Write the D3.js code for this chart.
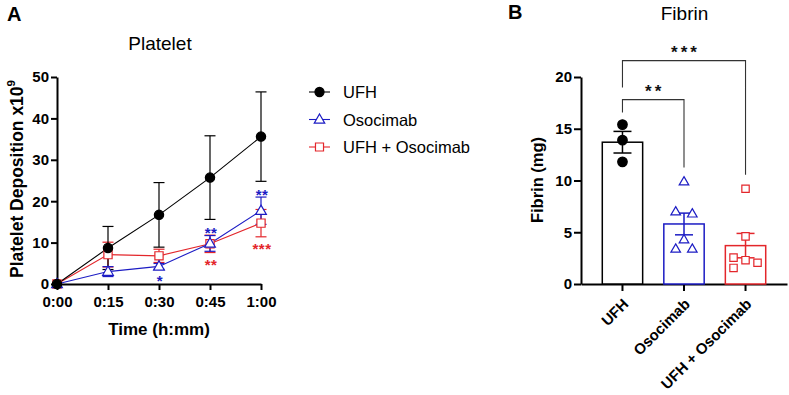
<!DOCTYPE html>
<html>
<head>
<meta charset="utf-8">
<script src="https://cdn.jsdelivr.net/npm/d3@7"></script>
<style>
  html, body { margin: 0; padding: 0; background: #fff; }
  svg { display: block; font-family: "Liberation Sans", Arial, sans-serif; }
</style>
</head>
<body>
<svg id="chart" width="789" height="395"></svg>
<script>
// ---------- DATA ----------
const times = [0, 15, 30, 45, 60];
const timeLabels = ["0:00", "0:15", "0:30", "0:45", "1:00"];
const plateletTicks = [0, 10, 20, 30, 40, 50];

const ufhMean = [0, 8.7, 16.7, 25.7, 35.6];
const ufhErr = [0, 5.2, 7.8, 10.1, 10.8];
const osoMean = [0, 3.0, 4.25, 9.8, 17.7];
const osoErr = [0, 1.2, 0.7, 1.9, 3.3];
const comboMean = [0, 7.1, 6.8, 9.7, 14.7];
const comboErr = [0, 3.0, 1.6, 2.1, 3.3];

const seriesNames = ["UFH", "Osocimab", "UFH + Osocimab"];

const plateletStars = [
  { series: "Osocimab", t: 30, label: "*", side: "below" },
  { series: "Osocimab", t: 45, label: "**", side: "above" },
  { series: "UFH + Osocimab", t: 45, label: "**", side: "below" },
  { series: "Osocimab", t: 60, label: "**", side: "above" },
  { series: "UFH + Osocimab", t: 60, label: "***", side: "below" }
];

const fibrinGroups = ["UFH", "Osocimab", "UFH + Osocimab"];
const fibrinUFH = [15.4, 13.9, 11.8];
const fibrinOso = [9.9, 7.0, 6.8, 4.3, 3.4, 3.4];
const fibrinCombo = [9.2, 4.6, 2.55, 2.3, 2.05, 1.55];
const fibrinTicks = [0, 5, 10, 15, 20];
const fibrinComparisons = [
  { a: "UFH", b: "Osocimab", label: "**" },
  { a: "UFH", b: "UFH + Osocimab", label: "***" }
];

// ---------- STYLE ----------
const colors = { "UFH": "#000000", "Osocimab": "#1c1cc4", "UFH + Osocimab": "#e3262b" };
const symbols = { "UFH": d3.symbolCircle, "Osocimab": d3.symbolTriangle, "UFH + Osocimab": d3.symbolSquare };
const filled = { "UFH": true, "Osocimab": false, "UFH + Osocimab": false };

const svg = d3.select("#chart");
const FONT = "'Liberation Sans', Arial, sans-serif";

function drawMarker(g, name, x, y, scale) {
  const sizes = { "UFH": 68 * scale, "Osocimab": 50 * scale, "UFH + Osocimab": 68 * scale };
  const path = d3.symbol().type(symbols[name]).size(sizes[name])();
  const dy = name === "Osocimab" ? 0.6 : 0;
  g.append("path")
    .attr("d", path)
    .attr("transform", `translate(${x},${y + dy})`)
    .attr("fill", filled[name] ? colors[name] : "#fff")
    .attr("stroke", colors[name])
    .attr("stroke-width", 1.2);
}

// ================= PANEL A =================
const A = svg.append("g");
const xA = d3.scaleLinear().domain([0, 60]).range([57, 261]);
const yA = d3.scaleLinear().domain([0, 50]).range([284, 77]);

A.append("text").text("A").attr("x", 7).attr("y", 21)
  .attr("font-size", 20).attr("font-weight", "bold");
A.append("text").text("Platelet").attr("x", 160).attr("y", 50)
  .attr("text-anchor", "middle").attr("font-size", 19);

// axes
const axAx = A.append("g").attr("transform", `translate(0,${yA(0)})`)
  .call(d3.axisBottom(xA).tickValues(times).tickFormat((d, i) => timeLabels[i]).tickSize(6).tickSizeOuter(0));
const ayAx = A.append("g").attr("transform", `translate(${xA(0)},0)`)
  .call(d3.axisLeft(yA).tickValues(plateletTicks).tickSize(6).tickSizeOuter(0));
[axAx, ayAx].forEach(ax => {
  ax.select(".domain").attr("stroke", "#000").attr("stroke-width", 2);
  ax.selectAll(".tick line").attr("stroke", "#000").attr("stroke-width", 2);
  ax.selectAll(".tick text").attr("font-size", 15).attr("font-weight", "bold")
    .attr("font-family", FONT).attr("fill", "#000");
});
axAx.selectAll(".tick text").attr("dy", "0.95em");
ayAx.selectAll(".tick text").attr("x", -8);

A.append("text").text("Time (h:mm)").attr("x", 159).attr("y", 335)
  .attr("text-anchor", "middle").attr("font-size", 17).attr("font-weight", "bold");
const yl = A.append("text").attr("transform", "translate(22.5,179) rotate(-90)")
  .attr("text-anchor", "middle").attr("font-size", 17.5).attr("font-weight", "bold");
yl.append("tspan").text("Platelet Deposition x10");
yl.append("tspan").text("9").attr("font-size", 11.5).attr("dy", -7.5);

const seriesData = {
  "UFH": { mean: ufhMean, err: ufhErr },
  "Osocimab": { mean: osoMean, err: osoErr },
  "UFH + Osocimab": { mean: comboMean, err: comboErr }
};
const drawOrder = ["UFH + Osocimab", "Osocimab", "UFH"];
const line = d3.line().x((d, i) => xA(times[i])).y(d => yA(d));
const capA = 5.5;
drawOrder.forEach(name => {
  const s = seriesData[name];
  const g = A.append("g");
  s.mean.forEach((m, i) => {
    if (s.err[i] <= 0) return;
    const x = xA(times[i]);
    const y1 = yA(m + s.err[i]), y0 = yA(m - s.err[i]);
    g.append("line").attr("x1", x).attr("x2", x).attr("y1", y1).attr("y2", y0)
      .attr("stroke", colors[name]).attr("stroke-width", 1.2);
    [y1, y0].forEach(yy => g.append("line").attr("x1", x - capA).attr("x2", x + capA)
      .attr("y1", yy).attr("y2", yy).attr("stroke", colors[name]).attr("stroke-width", 1.2));
  });
  g.append("path").attr("d", line(s.mean)).attr("fill", "none")
    .attr("stroke", colors[name]).attr("stroke-width", 1.1);
});
drawOrder.forEach(name => {
  const s = seriesData[name];
  s.mean.forEach((m, i) => drawMarker(A, name, xA(times[i]), yA(m), 1));
});

// stars
plateletStars.forEach(st => {
  const s = seriesData[st.series];
  const i = times.indexOf(st.t);
  const end = st.side === "above" ? s.mean[i] + s.err[i] : s.mean[i] - s.err[i];
  const cy = yA(end) + (st.side === "above" ? -6 : 8.5);
  A.append("text").text(st.label).attr("x", xA(st.t) + 1).attr("y", cy + 8.5)
    .attr("text-anchor", "middle").attr("font-size", 15).attr("font-weight", "bold")
    .attr("letter-spacing", 0.5)
    .attr("fill", colors[st.series]);
});

// legend
const leg = A.append("g");
seriesNames.forEach((name, i) => {
  const y = 92 + i * 27.5;
  leg.append("line").attr("x1", 309).attr("x2", 330).attr("y1", y).attr("y2", y)
    .attr("stroke", colors[name]).attr("stroke-width", 1.1);
  drawMarker(leg, name, 319.5, y, 0.95);
  leg.append("text").text(name).attr("x", 343).attr("y", y + 6)
    .attr("font-size", 16.5).attr("fill", "#000");
});

// ================= PANEL B =================
const B = svg.append("g");
const xB = d3.scaleBand().domain(fibrinGroups).range([581, 787]).paddingInner(0.344).paddingOuter(0.346);
const yB = d3.scaleLinear().domain([0, 20]).range([284, 77]);
const groupVals = { "UFH": fibrinUFH, "Osocimab": fibrinOso, "UFH + Osocimab": fibrinCombo };

B.append("text").text("B").attr("x", 508).attr("y", 19)
  .attr("font-size", 20).attr("font-weight", "bold");
B.append("text").text("Fibrin").attr("x", 684.5).attr("y", 20)
  .attr("text-anchor", "middle").attr("font-size", 19);

const bxAx = B.append("g").attr("transform", `translate(0,${yB(0)})`)
  .call(d3.axisBottom(xB).tickSize(7).tickSizeOuter(0));
const byAx = B.append("g").attr("transform", `translate(581,0)`)
  .call(d3.axisLeft(yB).tickValues(fibrinTicks).tickSize(7).tickSizeOuter(0));
[bxAx, byAx].forEach(ax => {
  ax.select(".domain").attr("stroke", "#000").attr("stroke-width", 2);
  ax.selectAll(".tick line").attr("stroke", "#000").attr("stroke-width", 2);
  ax.selectAll(".tick text").attr("font-size", 15).attr("font-weight", "bold")
    .attr("font-family", FONT).attr("fill", "#000");
});
byAx.selectAll(".tick text").attr("x", -9);
bxAx.selectAll(".tick text")
  .attr("text-anchor", "end").attr("dy", null).attr("y", null)
  .attr("transform", "translate(7,21) rotate(-45)");

B.append("text").text("Fibrin (mg)").attr("transform", "translate(543,180) rotate(-90)")
  .attr("text-anchor", "middle").attr("font-size", 16.5).attr("font-weight", "bold");

// bars
const capB = 9;
fibrinGroups.forEach(gName => {
  const vals = groupVals[gName];
  const m = d3.mean(vals);
  const sem = d3.deviation(vals) / Math.sqrt(vals.length);
  const x0 = xB(gName), w = xB.bandwidth(), cx = x0 + w / 2;
  B.append("rect").attr("x", x0).attr("y", yB(m)).attr("width", w).attr("height", yB(0) - yB(m))
    .attr("fill", "#fff").attr("stroke", colors[gName]).attr("stroke-width", 1.5);
  B.append("line").attr("x1", cx).attr("x2", cx).attr("y1", yB(m + sem)).attr("y2", yB(m - sem))
    .attr("stroke", colors[gName]).attr("stroke-width", 1.5);
  [m + sem, m - sem].forEach(v => B.append("line").attr("x1", cx - capB).attr("x2", cx + capB)
    .attr("y1", yB(v)).attr("y2", yB(v)).attr("stroke", colors[gName]).attr("stroke-width", 1.5));
});

// points with simple symmetric beeswarm
function swarm(vals, cx) {
  const sorted = vals.slice().sort((a, b) => b - a);
  const clusters = [];
  sorted.forEach(v => {
    const last = clusters[clusters.length - 1];
    if (last && Math.abs(yB(v) - yB(last[last.length - 1])) < 4) last.push(v);
    else clusters.push([v]);
  });
  const placed = [];
  clusters.forEach(c => {
    const n = c.length;
    if (n > 1) {
      const gap = n === 2 ? 16.6 : 24 / (n - 1);
      c.forEach((v, i) => placed.push({ v, x: cx + (i - (n - 1) / 2) * gap, y: yB(v) }));
    } else {
      const v = c[0], y = yB(v);
      const cands = [0, -12, 12];
      let x = cx;
      for (const o of cands) {
        const ok = placed.every(p => Math.hypot(p.x - (cx + o), p.y - y) >= 9);
        if (ok) { x = cx + o; break; }
      }
      placed.push({ v, x, y });
    }
  });
  return placed;
}
fibrinGroups.forEach(gName => {
  const cx = xB(gName) + xB.bandwidth() / 2;
  swarm(groupVals[gName], cx).forEach(p => drawMarker(B, gName, p.x, p.y, gName === "UFH" ? 1.05 : 0.8));
});

// significance brackets
const bracketColor = "#333";
const groupTop = g => yB(d3.max(groupVals[g]));
const cxOf = g => xB(g) + xB.bandwidth() / 2;
let prevLine = null;
fibrinComparisons.forEach((c, k) => {
  const lineY = k === 0 ? groupTop(c.a) - 25 : prevLine - 39;
  const legA = k === 0 ? groupTop(c.a) - 12 : prevLine - 12;
  const legB = groupTop(c.b) - 14;
  const xa = cxOf(c.a), xb = cxOf(c.b);
  B.append("path").attr("d", `M${xa},${legA}V${lineY}H${xb}V${legB}`)
    .attr("fill", "none").attr("stroke", bracketColor).attr("stroke-width", 1.1);
  B.append("text").text(c.label).attr("x", (xa + xb) / 2 + 1.5).attr("y", lineY - 13 + 10)
    .attr("text-anchor", "middle").attr("font-size", 17).attr("font-weight", "bold")
    .attr("letter-spacing", 3).attr("fill", "#111");
  prevLine = lineY;
});
</script>
</body>
</html>
